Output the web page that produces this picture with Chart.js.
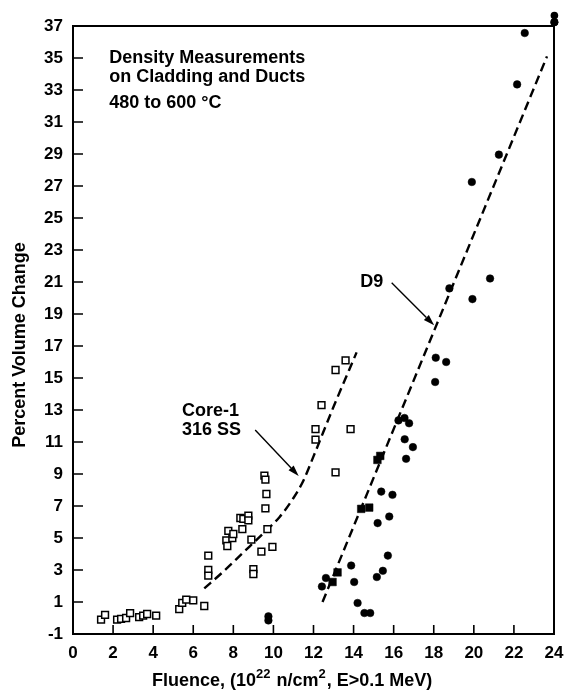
<!DOCTYPE html>
<html>
<head>
<meta charset="utf-8">
<script src="https://cdn.jsdelivr.net/npm/chart.js@4.4.1/dist/chart.umd.min.js"></script>
<style>
  body { margin: 0; background: #fff; }
  #wrap { width: 564px; height: 691px; }
</style>
</head>
<body>
<div id="wrap"><canvas id="myChart" width="564" height="691"></canvas></div>
<script>
// tick values and labels
var xTicks = [0, 2, 4, 6, 8, 10, 12, 14, 16, 18, 20, 22, 24];
var xTickLabels = ['0', '2', '4', '6', '8', '10', '12', '14', '16', '18', '20', '22', '24'];
var yTicks = [-1, 1, 3, 5, 7, 9, 11, 13, 15, 17, 19, 21, 23, 25, 27, 29, 31, 33, 35, 37];
var yTickLabels = ['-1', '1', '3', '5', '7', '9', '11', '13', '15', '17', '19', '21', '23', '25', '27', '29', '31', '33', '35', '37'];

// Core-1 316 SS (open squares)
var core1X = [1.4, 1.6, 2.2, 2.4, 2.65, 2.85, 3.3, 3.5, 3.7, 4.15, 5.3, 5.45, 5.65, 6.0, 6.55, 6.75, 6.75, 6.75,
  7.65, 7.7, 7.75, 7.95, 8.0, 8.35, 8.5, 8.45, 8.75, 8.75, 8.9, 9.0, 9.0, 9.4, 9.55, 9.6, 9.65, 9.6, 9.7, 9.95,
  12.1, 12.1, 12.4, 13.1, 13.6, 13.85, 13.1];
var core1Y = [-0.1, 0.2, -0.1, -0.05, 0.0, 0.3, 0.05, 0.15, 0.25, 0.15, 0.55, 0.95, 1.15, 1.1, 0.75, 3.9, 3.0, 2.65,
  4.85, 4.5, 5.45, 5.0, 5.25, 6.25, 6.2, 5.55, 6.4, 6.1, 4.9, 3.05, 2.75, 4.15, 8.9, 8.65, 7.75, 6.85, 5.55, 4.45,
  11.8, 11.15, 13.3, 15.5, 16.1, 11.8, 9.1];

// D9 (filled circles)
var d9X = [9.75, 9.75, 12.42, 12.62, 13.88, 14.03, 14.2, 14.54, 14.83, 15.2, 15.38, 15.94, 15.78, 15.16, 15.46, 15.71,
  16.24, 16.54, 16.77, 16.55, 16.96, 16.62, 18.1, 18.62, 18.07, 18.78, 19.93, 20.81, 19.9, 21.25, 22.16, 22.54, 24.02, 24.02];
var d9Y = [0.1, -0.15, 1.97, 2.5, 3.28, 2.25, 0.94, 0.31, 0.31, 5.93, 7.9, 7.7, 6.34, 2.56, 2.95, 3.9,
  12.35, 12.5, 12.17, 11.17, 10.68, 9.95, 16.27, 16.0, 14.75, 20.6, 19.93, 21.22, 27.25, 28.96, 33.35, 36.56, 37.66, 37.24];

// D9 (filled squares along the trend)
var d9SqX = [12.95, 13.2, 14.38, 14.78, 15.19, 15.33];
var d9SqY = [2.25, 2.85, 6.82, 6.9, 9.88, 10.13];

// dashed trend curves
var core1LineX = [6.55, 7.5, 8.5, 9.5, 10.3, 11.0, 11.5, 12.0, 13.0, 14.15];
var core1LineY = [1.85, 2.9, 4.1, 5.3, 6.3, 7.5, 8.6, 10.1, 13.2, 16.6];
var d9LineX = [12.45, 23.65];
var d9LineY = [1.0, 35.1];

function pts(xs, ys) {
  return xs.map(function (x, i) { return { x: x, y: ys[i] }; });
}

var FONT = '"Liberation Sans", Arial, Helvetica, sans-serif';

// labels and arrows placed in data units
var notes = [
  { text: 'Density Measurements', x: 1.81, y: 34.97 },
  { text: 'on Cladding and Ducts', x: 1.81, y: 33.79 },
  { text: '480 to 600 \u00B0C', x: 1.81, y: 32.17 },
  { text: 'Core-1', x: 5.44, y: 12.94 },
  { text: '316 SS', x: 5.44, y: 11.76 },
  { text: 'D9', x: 14.33, y: 21.01 }
];
var arrows = [
  { x1: 9.09, y1: 11.75, x2: 11.26, y2: 8.88 },
  { x1: 15.9, y1: 20.95, x2: 18.02, y2: 18.3 }
];

// box around the plot plus inward tick marks
var framePlugin = {
  id: 'frame',
  beforeDatasetsDraw: function (chart) {
    var c = chart.ctx, a = chart.chartArea;
    var xs = chart.scales.x, ys = chart.scales.y;
    c.save();
    c.strokeStyle = '#000';
    c.lineWidth = 2;
    c.strokeRect(a.left, a.top, a.right - a.left, a.bottom - a.top);
    c.lineWidth = 1.6;
    c.beginPath();
    xTicks.slice(1, -1).forEach(function (v) {
      var px = xs.getPixelForValue(v);
      c.moveTo(px, a.bottom);
      c.lineTo(px, a.bottom - 9);
    });
    yTicks.slice(1, -1).forEach(function (v) {
      var py = ys.getPixelForValue(v);
      c.moveTo(a.left, py);
      c.lineTo(a.left + 10, py);
    });
    c.stroke();
    c.restore();
  },
  // the point element skips anything past the box edge, so draw those D9 circles here
  afterDatasetsDraw: function (chart) {
    var c = chart.ctx, a = chart.chartArea;
    var meta = chart.getDatasetMeta(1);
    c.save();
    c.fillStyle = '#000';
    meta.data.forEach(function (el) {
      var r = 3.8;
      if (el.y - r < a.top || el.x + r > a.right) {
        c.beginPath();
        c.arc(el.x, el.y, r, 0, Math.PI * 2);
        c.fill();
      }
    });
    c.restore();
  }
};

// text notes, arrows and axis titles
var notesPlugin = {
  id: 'notes',
  afterDraw: function (chart) {
    var c = chart.ctx, a = chart.chartArea;
    var xs = chart.scales.x, ys = chart.scales.y;
    c.save();
    c.fillStyle = '#000';
    c.strokeStyle = '#000';
    c.font = 'bold 18px ' + FONT;
    c.textAlign = 'left';
    c.textBaseline = 'middle';
    notes.forEach(function (n) {
      c.fillText(n.text, xs.getPixelForValue(n.x), ys.getPixelForValue(n.y));
    });

    arrows.forEach(function (ar) {
      var x1 = xs.getPixelForValue(ar.x1), y1 = ys.getPixelForValue(ar.y1);
      var x2 = xs.getPixelForValue(ar.x2), y2 = ys.getPixelForValue(ar.y2);
      var ang = Math.atan2(y2 - y1, x2 - x1);
      var len = 11, half = 3.5;
      var bx = x2 - len * Math.cos(ang), by = y2 - len * Math.sin(ang);
      c.lineWidth = 1.4;
      c.beginPath();
      c.moveTo(x1, y1);
      c.lineTo(bx, by);
      c.stroke();
      c.beginPath();
      c.moveTo(x2, y2);
      c.lineTo(bx + half * Math.sin(ang), by - half * Math.cos(ang));
      c.lineTo(bx - half * Math.sin(ang), by + half * Math.cos(ang));
      c.closePath();
      c.fill();
    });

    // x title with superscripts
    var parts = [
      { t: 'Fluence, (10', sup: false },
      { t: '22', sup: true },
      { t: ' n/cm', sup: false },
      { t: '2', sup: true },
      { t: ', E>0.1 MeV)', sup: false }
    ];
    var x = a.left + 79, base = a.bottom + 52;
    c.textBaseline = 'alphabetic';
    parts.forEach(function (p) {
      c.font = (p.sup ? 'bold 13px ' : 'bold 18px ') + FONT;
      c.fillText(p.t, x, p.sup ? base - 8 : base);
      x += c.measureText(p.t).width + (p.sup ? 1 : 0);
    });

    // y title
    c.font = 'bold 18px ' + FONT;
    c.translate(a.left - 53, 345);
    c.rotate(-Math.PI / 2);
    c.textAlign = 'center';
    c.textBaseline = 'middle';
    c.fillText('Percent Volume Change', 0, 0);
    c.restore();
  }
};

var ctx = document.getElementById('myChart').getContext('2d');

var myChart = new Chart(ctx, {
  type: 'scatter',
  data: {
    datasets: [
      {
        label: 'Core-1 316 SS',
        data: pts(core1X, core1Y),
        pointStyle: 'rect',
        pointRadius: 4.8,
        pointBorderWidth: 1.5,
        pointBackgroundColor: '#fff',
        pointBorderColor: '#000'
      },
      {
        label: 'D9',
        data: pts(d9X, d9Y),
        pointStyle: 'circle',
        pointRadius: 3.8,
        pointBorderWidth: 0.5,
        pointBackgroundColor: '#000',
        pointBorderColor: '#000',
        clip: false
      },
      {
        label: 'D9 (squares)',
        data: pts(d9SqX, d9SqY),
        pointStyle: 'rect',
        pointRadius: 5.4,
        pointBorderWidth: 0.5,
        pointBackgroundColor: '#000',
        pointBorderColor: '#000'
      },
      {
        label: 'Core-1 trend',
        data: pts(core1LineX, core1LineY),
        showLine: true,
        pointRadius: 0,
        borderColor: '#000',
        borderWidth: 2.4,
        borderDash: [9, 5],
        cubicInterpolationMode: 'monotone',
        fill: false
      },
      {
        label: 'D9 trend',
        data: pts(d9LineX, d9LineY),
        showLine: true,
        pointRadius: 0,
        borderColor: '#000',
        borderWidth: 2.4,
        borderDash: [9, 5],
        fill: false
      }
    ]
  },
  options: {
    responsive: false,
    animation: false,
    events: [],
    layout: { padding: { top: 26, right: 0, left: 0, bottom: 0 } },
    plugins: {
      legend: { display: false },
      tooltip: { enabled: false }
    },
    scales: {
      x: {
        type: 'linear',
        min: 0,
        max: 24,
        grid: { display: false, drawTicks: false },
        border: { display: false },
        afterBuildTicks: function (scale) {
          scale.ticks = xTicks.map(function (v) { return { value: v }; });
        },
        afterFit: function (scale) {
          scale.height = 57;
          // keep the plot box close to the right edge
          scale.paddingLeft = 0;
          scale.paddingRight = 10;
        },
        ticks: {
          autoSkip: false,
          maxRotation: 0,
          padding: 9,
          color: '#000',
          font: { family: FONT, size: 17, weight: 'bold' },
          callback: function (v, i) { return xTickLabels[i]; }
        }
      },
      y: {
        type: 'linear',
        min: -1,
        max: 37,
        grid: { display: false, drawTicks: false },
        border: { display: false },
        afterBuildTicks: function (scale) {
          scale.ticks = yTicks.map(function (v) { return { value: v }; });
        },
        afterFit: function (scale) { scale.width = 73; },
        ticks: {
          autoSkip: false,
          padding: 10,
          color: '#000',
          font: { family: FONT, size: 17, weight: 'bold' },
          callback: function (v, i) { return yTickLabels[i]; }
        }
      }
    }
  },
  plugins: [framePlugin, notesPlugin]
});
</script>
</body>
</html>
